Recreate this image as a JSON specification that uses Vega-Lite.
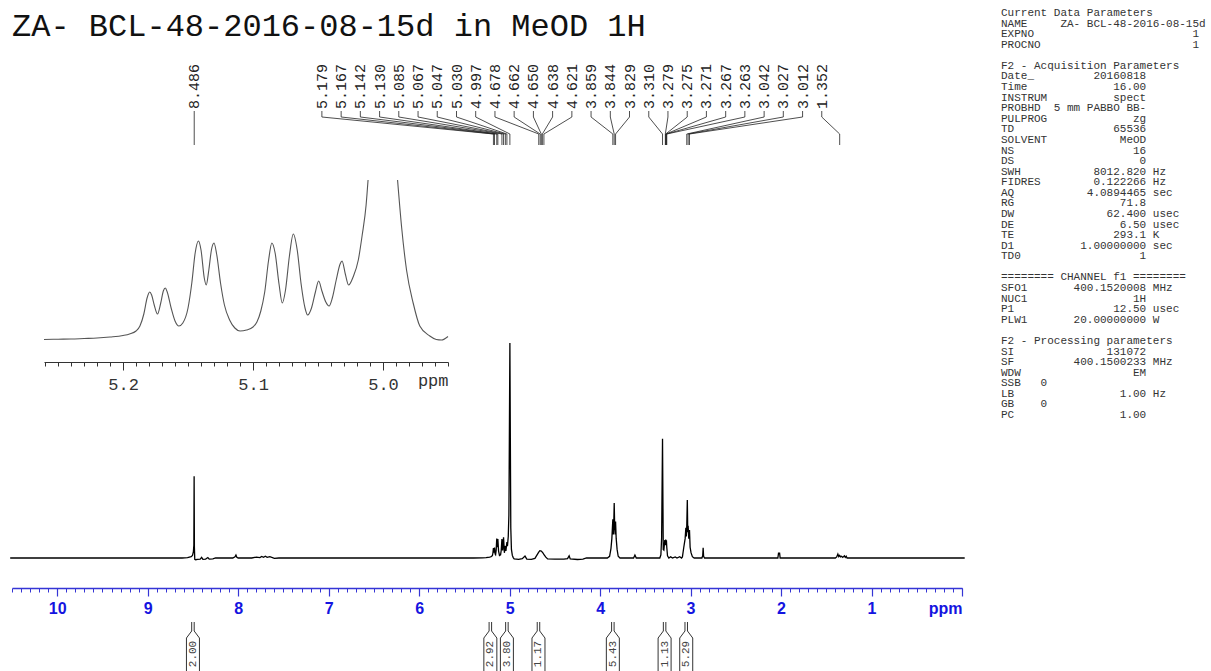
{
  "$schema": "https://vega.github.io/schema/vega-lite/v6.json",
  "width": 1211,
  "height": 671,
  "padding": 0,
  "autosize": {"type": "none"},
  "background": "white",
  "config": {"view": {"stroke": null}, "axis": {"grid": false}},
  "datasets": {
    "params": [
      {"line": 1, "text": "Current Data Parameters"},
      {"line": 2, "text": "NAME\u00a0\u00a0\u00a0\u00a0\u00a0ZA- BCL-48-2016-08-15d"},
      {"line": 3, "text": "EXPNO\u00a0\u00a0\u00a0\u00a0\u00a0\u00a0\u00a0\u00a0\u00a0\u00a0\u00a0\u00a0\u00a0\u00a0\u00a0\u00a0\u00a0\u00a0\u00a0\u00a0\u00a0\u00a0\u00a0\u00a01"},
      {"line": 4, "text": "PROCNO\u00a0\u00a0\u00a0\u00a0\u00a0\u00a0\u00a0\u00a0\u00a0\u00a0\u00a0\u00a0\u00a0\u00a0\u00a0\u00a0\u00a0\u00a0\u00a0\u00a0\u00a0\u00a0\u00a01"},
      {"line": 6, "text": "F2 - Acquisition Parameters"},
      {"line": 7, "text": "Date_\u00a0\u00a0\u00a0\u00a0\u00a0\u00a0\u00a0\u00a0\u00a020160818"},
      {"line": 8, "text": "Time\u00a0\u00a0\u00a0\u00a0\u00a0\u00a0\u00a0\u00a0\u00a0\u00a0\u00a0\u00a0\u00a016.00"},
      {"line": 9, "text": "INSTRUM\u00a0\u00a0\u00a0\u00a0\u00a0\u00a0\u00a0\u00a0\u00a0\u00a0spect"},
      {"line": 10, "text": "PROBHD\u00a0\u00a05 mm PABBO BB-"},
      {"line": 11, "text": "PULPROG\u00a0\u00a0\u00a0\u00a0\u00a0\u00a0\u00a0\u00a0\u00a0\u00a0\u00a0\u00a0\u00a0zg"},
      {"line": 12, "text": "TD\u00a0\u00a0\u00a0\u00a0\u00a0\u00a0\u00a0\u00a0\u00a0\u00a0\u00a0\u00a0\u00a0\u00a0\u00a065536"},
      {"line": 13, "text": "SOLVENT\u00a0\u00a0\u00a0\u00a0\u00a0\u00a0\u00a0\u00a0\u00a0\u00a0\u00a0MeOD"},
      {"line": 14, "text": "NS\u00a0\u00a0\u00a0\u00a0\u00a0\u00a0\u00a0\u00a0\u00a0\u00a0\u00a0\u00a0\u00a0\u00a0\u00a0\u00a0\u00a0\u00a016"},
      {"line": 15, "text": "DS\u00a0\u00a0\u00a0\u00a0\u00a0\u00a0\u00a0\u00a0\u00a0\u00a0\u00a0\u00a0\u00a0\u00a0\u00a0\u00a0\u00a0\u00a0\u00a00"},
      {"line": 16, "text": "SWH\u00a0\u00a0\u00a0\u00a0\u00a0\u00a0\u00a0\u00a0\u00a0\u00a0\u00a08012.820 Hz"},
      {"line": 17, "text": "FIDRES\u00a0\u00a0\u00a0\u00a0\u00a0\u00a0\u00a0\u00a00.122266 Hz"},
      {"line": 18, "text": "AQ\u00a0\u00a0\u00a0\u00a0\u00a0\u00a0\u00a0\u00a0\u00a0\u00a0\u00a04.0894465 sec"},
      {"line": 19, "text": "RG\u00a0\u00a0\u00a0\u00a0\u00a0\u00a0\u00a0\u00a0\u00a0\u00a0\u00a0\u00a0\u00a0\u00a0\u00a0\u00a071.8"},
      {"line": 20, "text": "DW\u00a0\u00a0\u00a0\u00a0\u00a0\u00a0\u00a0\u00a0\u00a0\u00a0\u00a0\u00a0\u00a0\u00a062.400 usec"},
      {"line": 21, "text": "DE\u00a0\u00a0\u00a0\u00a0\u00a0\u00a0\u00a0\u00a0\u00a0\u00a0\u00a0\u00a0\u00a0\u00a0\u00a0\u00a06.50 usec"},
      {"line": 22, "text": "TE\u00a0\u00a0\u00a0\u00a0\u00a0\u00a0\u00a0\u00a0\u00a0\u00a0\u00a0\u00a0\u00a0\u00a0\u00a0293.1 K"},
      {"line": 23, "text": "D1\u00a0\u00a0\u00a0\u00a0\u00a0\u00a0\u00a0\u00a0\u00a0\u00a01.00000000 sec"},
      {"line": 24, "text": "TD0\u00a0\u00a0\u00a0\u00a0\u00a0\u00a0\u00a0\u00a0\u00a0\u00a0\u00a0\u00a0\u00a0\u00a0\u00a0\u00a0\u00a0\u00a01"},
      {"line": 26, "text": "======== CHANNEL f1 ========"},
      {"line": 27, "text": "SFO1\u00a0\u00a0\u00a0\u00a0\u00a0\u00a0\u00a0400.1520008 MHz"},
      {"line": 28, "text": "NUC1\u00a0\u00a0\u00a0\u00a0\u00a0\u00a0\u00a0\u00a0\u00a0\u00a0\u00a0\u00a0\u00a0\u00a0\u00a0\u00a01H"},
      {"line": 29, "text": "P1\u00a0\u00a0\u00a0\u00a0\u00a0\u00a0\u00a0\u00a0\u00a0\u00a0\u00a0\u00a0\u00a0\u00a0\u00a012.50 usec"},
      {"line": 30, "text": "PLW1\u00a0\u00a0\u00a0\u00a0\u00a0\u00a0\u00a020.00000000 W"},
      {"line": 32, "text": "F2 - Processing parameters"},
      {"line": 33, "text": "SI\u00a0\u00a0\u00a0\u00a0\u00a0\u00a0\u00a0\u00a0\u00a0\u00a0\u00a0\u00a0\u00a0\u00a0131072"},
      {"line": 34, "text": "SF\u00a0\u00a0\u00a0\u00a0\u00a0\u00a0\u00a0\u00a0\u00a0400.1500233 MHz"},
      {"line": 35, "text": "WDW\u00a0\u00a0\u00a0\u00a0\u00a0\u00a0\u00a0\u00a0\u00a0\u00a0\u00a0\u00a0\u00a0\u00a0\u00a0\u00a0\u00a0EM"},
      {"line": 36, "text": "SSB\u00a0\u00a0\u00a00"},
      {"line": 37, "text": "LB\u00a0\u00a0\u00a0\u00a0\u00a0\u00a0\u00a0\u00a0\u00a0\u00a0\u00a0\u00a0\u00a0\u00a0\u00a0\u00a01.00 Hz"},
      {"line": 38, "text": "GB\u00a0\u00a0\u00a0\u00a00"},
      {"line": 39, "text": "PC\u00a0\u00a0\u00a0\u00a0\u00a0\u00a0\u00a0\u00a0\u00a0\u00a0\u00a0\u00a0\u00a0\u00a0\u00a0\u00a01.00"}
    ],
    "peaks": [
      {"ppm": 8.486, "at": 8.486},
      {"ppm": 5.179, "at": 7.075},
      {"ppm": 5.167, "at": 6.862},
      {"ppm": 5.142, "at": 6.650},
      {"ppm": 5.130, "at": 6.437},
      {"ppm": 5.085, "at": 6.225},
      {"ppm": 5.067, "at": 6.012},
      {"ppm": 5.047, "at": 5.800},
      {"ppm": 5.030, "at": 5.587},
      {"ppm": 4.997, "at": 5.375},
      {"ppm": 4.678, "at": 5.162},
      {"ppm": 4.662, "at": 4.950},
      {"ppm": 4.650, "at": 4.737},
      {"ppm": 4.638, "at": 4.525},
      {"ppm": 4.621, "at": 4.312},
      {"ppm": 3.859, "at": 4.100},
      {"ppm": 3.844, "at": 3.887},
      {"ppm": 3.829, "at": 3.675},
      {"ppm": 3.310, "at": 3.462},
      {"ppm": 3.279, "at": 3.250},
      {"ppm": 3.275, "at": 3.037},
      {"ppm": 3.271, "at": 2.825},
      {"ppm": 3.267, "at": 2.612},
      {"ppm": 3.263, "at": 2.400},
      {"ppm": 3.042, "at": 2.187},
      {"ppm": 3.027, "at": 1.975},
      {"ppm": 3.012, "at": 1.762},
      {"ppm": 1.352, "at": 1.550}
    ],
    "integrals": [
      {"area": 2.00, "ppm": 8.50},
      {"area": 2.92, "ppm": 5.213},
      {"area": 3.80, "ppm": 5.030},
      {"area": 1.17, "ppm": 4.681},
      {"area": 5.43, "ppm": 3.859},
      {"area": 1.13, "ppm": 3.287},
      {"area": 5.29, "ppm": 3.048}
    ],
    "spectrum": [
      {"ppm": 10.52, "i": 0}, {"ppm": 8.62, "i": 0}, {"ppm": 8.56, "i": 0.2}, {"ppm": 8.52, "i": 0.6},
      {"ppm": 8.505, "i": 1.2}, {"ppm": 8.495, "i": 3}, {"ppm": 8.49, "i": 6}, {"ppm": 8.487, "i": 38},
      {"ppm": 8.484, "i": 5}, {"ppm": 8.48, "i": -0.6}, {"ppm": 8.47, "i": -0.8}, {"ppm": 8.45, "i": -0.6},
      {"ppm": 8.42, "i": -0.5}, {"ppm": 8.404, "i": 0.3}, {"ppm": 8.39, "i": -0.6}, {"ppm": 8.36, "i": -0.5},
      {"ppm": 8.335, "i": 0.2}, {"ppm": 8.32, "i": -0.5}, {"ppm": 8.28, "i": -0.4}, {"ppm": 8.25, "i": 0},
      {"ppm": 8.06, "i": 0}, {"ppm": 8.035, "i": 0.6}, {"ppm": 8.025, "i": 1.4}, {"ppm": 8.015, "i": 0.3},
      {"ppm": 8.0, "i": 0}, {"ppm": 7.85, "i": 0}, {"ppm": 7.8, "i": 0.4}, {"ppm": 7.76, "i": 0.2},
      {"ppm": 7.74, "i": 0.7}, {"ppm": 7.72, "i": 0.3}, {"ppm": 7.7, "i": 0.8}, {"ppm": 7.68, "i": 0.3},
      {"ppm": 7.65, "i": 0.6}, {"ppm": 7.6, "i": -0.2}, {"ppm": 7.55, "i": 0}, {"ppm": 5.4, "i": 0},
      {"ppm": 5.3, "i": 0.1}, {"ppm": 5.26, "i": 0.2}, {"ppm": 5.22, "i": 0.4}, {"ppm": 5.2, "i": 0.7},
      {"ppm": 5.19, "i": 1.2}, {"ppm": 5.185, "i": 2.2}, {"ppm": 5.179, "i": 4.6}, {"ppm": 5.173, "i": 2.5},
      {"ppm": 5.167, "i": 4.8}, {"ppm": 5.16, "i": 1.8}, {"ppm": 5.155, "i": 1.5}, {"ppm": 5.149, "i": 3.5},
      {"ppm": 5.142, "i": 9}, {"ppm": 5.136, "i": 5}, {"ppm": 5.13, "i": 8.8}, {"ppm": 5.122, "i": 3.2},
      {"ppm": 5.112, "i": 1.2}, {"ppm": 5.1, "i": 1.5}, {"ppm": 5.093, "i": 3.5}, {"ppm": 5.085, "i": 8.8},
      {"ppm": 5.077, "i": 3.5}, {"ppm": 5.067, "i": 9.6}, {"ppm": 5.058, "i": 2.4}, {"ppm": 5.047, "i": 5.6},
      {"ppm": 5.041, "i": 3.3}, {"ppm": 5.03, "i": 7.4}, {"ppm": 5.024, "i": 5.5}, {"ppm": 5.015, "i": 10},
      {"ppm": 5.008, "i": 20}, {"ppm": 5.003, "i": 55}, {"ppm": 4.997, "i": 100}, {"ppm": 4.992, "i": 55},
      {"ppm": 4.987, "i": 14}, {"ppm": 4.98, "i": 4}, {"ppm": 4.97, "i": 1.2}, {"ppm": 4.96, "i": 0.2},
      {"ppm": 4.95, "i": -0.4}, {"ppm": 4.9, "i": -0.6}, {"ppm": 4.86, "i": -0.3}, {"ppm": 4.83, "i": 0.9},
      {"ppm": 4.81, "i": -0.5}, {"ppm": 4.76, "i": -0.6}, {"ppm": 4.72, "i": -0.2}, {"ppm": 4.7, "i": 1.2},
      {"ppm": 4.68, "i": 2.6}, {"ppm": 4.666, "i": 3.4}, {"ppm": 4.65, "i": 3.2}, {"ppm": 4.632, "i": 2.4},
      {"ppm": 4.618, "i": 1.4}, {"ppm": 4.6, "i": 0.4}, {"ppm": 4.58, "i": -0.4}, {"ppm": 4.5, "i": -0.5},
      {"ppm": 4.4, "i": -0.5}, {"ppm": 4.36, "i": -0.3}, {"ppm": 4.342, "i": 1.0}, {"ppm": 4.33, "i": -0.4},
      {"ppm": 4.25, "i": -0.7}, {"ppm": 4.19, "i": -0.5}, {"ppm": 4.15, "i": 0}, {"ppm": 3.92, "i": 0},
      {"ppm": 3.895, "i": 0.8}, {"ppm": 3.88, "i": 4.4}, {"ppm": 3.87, "i": 9}, {"ppm": 3.864, "i": 14},
      {"ppm": 3.859, "i": 18}, {"ppm": 3.854, "i": 11}, {"ppm": 3.849, "i": 16}, {"ppm": 3.844, "i": 25.6},
      {"ppm": 3.839, "i": 15}, {"ppm": 3.834, "i": 11}, {"ppm": 3.829, "i": 17}, {"ppm": 3.822, "i": 9},
      {"ppm": 3.812, "i": 4}, {"ppm": 3.8, "i": 0.8}, {"ppm": 3.78, "i": 0}, {"ppm": 3.63, "i": 0},
      {"ppm": 3.615, "i": 1.4}, {"ppm": 3.6, "i": 0}, {"ppm": 3.34, "i": 0}, {"ppm": 3.328, "i": 1.5},
      {"ppm": 3.32, "i": 9.3}, {"ppm": 3.31, "i": 55.5}, {"ppm": 3.302, "i": 4}, {"ppm": 3.295, "i": 3.7},
      {"ppm": 3.285, "i": 8.4}, {"ppm": 3.279, "i": 6}, {"ppm": 3.275, "i": 8.6}, {"ppm": 3.271, "i": 6.5},
      {"ppm": 3.267, "i": 8.2}, {"ppm": 3.263, "i": 5}, {"ppm": 3.255, "i": 1}, {"ppm": 3.24, "i": 0},
      {"ppm": 3.22, "i": 0.6}, {"ppm": 3.2, "i": 0}, {"ppm": 3.17, "i": 0.5}, {"ppm": 3.15, "i": 0},
      {"ppm": 3.12, "i": 0.6}, {"ppm": 3.1, "i": 0}, {"ppm": 3.09, "i": 0.5}, {"ppm": 3.075, "i": 5},
      {"ppm": 3.06, "i": 9}, {"ppm": 3.052, "i": 14}, {"ppm": 3.047, "i": 10}, {"ppm": 3.042, "i": 15},
      {"ppm": 3.036, "i": 27}, {"ppm": 3.031, "i": 12}, {"ppm": 3.027, "i": 15}, {"ppm": 3.02, "i": 9},
      {"ppm": 3.012, "i": 13}, {"ppm": 3.005, "i": 5}, {"ppm": 2.995, "i": 2.5}, {"ppm": 2.98, "i": 0.6},
      {"ppm": 2.96, "i": 0}, {"ppm": 2.875, "i": 0}, {"ppm": 2.866, "i": 1}, {"ppm": 2.861, "i": 4.8},
      {"ppm": 2.856, "i": 0.8}, {"ppm": 2.845, "i": 0}, {"ppm": 2.035, "i": 0}, {"ppm": 2.028, "i": 2.3},
      {"ppm": 2.016, "i": 2.3}, {"ppm": 2.01, "i": 0}, {"ppm": 1.4, "i": 0}, {"ppm": 1.385, "i": 0.5},
      {"ppm": 1.372, "i": 1.8}, {"ppm": 1.362, "i": 0.6}, {"ppm": 1.352, "i": 1.2}, {"ppm": 1.342, "i": 0.5},
      {"ppm": 1.33, "i": 0.8}, {"ppm": 1.318, "i": 0.3}, {"ppm": 1.3, "i": 1.0}, {"ppm": 1.29, "i": 0.3},
      {"ppm": 1.28, "i": 0.8}, {"ppm": 1.27, "i": 0}, {"ppm": -0.03, "i": 0}
    ],
    "inset": [
      {"seg": "a", "ppm": 5.2608, "v": 0.5}, {"seg": "a", "ppm": 5.25, "v": 0.8}, {"seg": "a", "ppm": 5.24, "v": 1},
      {"seg": "a", "ppm": 5.23, "v": 1.5}, {"seg": "a", "ppm": 5.22, "v": 2}, {"seg": "a", "ppm": 5.21, "v": 3},
      {"seg": "a", "ppm": 5.2, "v": 4.5}, {"seg": "a", "ppm": 5.195, "v": 6}, {"seg": "a", "ppm": 5.19, "v": 9},
      {"seg": "a", "ppm": 5.187, "v": 14}, {"seg": "a", "ppm": 5.184, "v": 26}, {"seg": "a", "ppm": 5.1815, "v": 42},
      {"seg": "a", "ppm": 5.1795, "v": 48}, {"seg": "a", "ppm": 5.178, "v": 45}, {"seg": "a", "ppm": 5.176, "v": 35},
      {"seg": "a", "ppm": 5.1735, "v": 26}, {"seg": "a", "ppm": 5.171, "v": 37}, {"seg": "a", "ppm": 5.169, "v": 49},
      {"seg": "a", "ppm": 5.1675, "v": 52}, {"seg": "a", "ppm": 5.166, "v": 48}, {"seg": "a", "ppm": 5.163, "v": 32},
      {"seg": "a", "ppm": 5.16, "v": 19}, {"seg": "a", "ppm": 5.157, "v": 14}, {"seg": "a", "ppm": 5.154, "v": 17},
      {"seg": "a", "ppm": 5.15, "v": 32}, {"seg": "a", "ppm": 5.147, "v": 58}, {"seg": "a", "ppm": 5.1445, "v": 87},
      {"seg": "a", "ppm": 5.142, "v": 99}, {"seg": "a", "ppm": 5.14, "v": 90}, {"seg": "a", "ppm": 5.1375, "v": 62},
      {"seg": "a", "ppm": 5.136, "v": 55}, {"seg": "a", "ppm": 5.134, "v": 70}, {"seg": "a", "ppm": 5.132, "v": 90},
      {"seg": "a", "ppm": 5.13, "v": 97}, {"seg": "a", "ppm": 5.128, "v": 86}, {"seg": "a", "ppm": 5.125, "v": 57},
      {"seg": "a", "ppm": 5.122, "v": 35}, {"seg": "a", "ppm": 5.118, "v": 20}, {"seg": "a", "ppm": 5.114, "v": 12},
      {"seg": "a", "ppm": 5.11, "v": 9}, {"seg": "a", "ppm": 5.105, "v": 10}, {"seg": "a", "ppm": 5.1, "v": 13},
      {"seg": "a", "ppm": 5.097, "v": 18}, {"seg": "a", "ppm": 5.094, "v": 29}, {"seg": "a", "ppm": 5.091, "v": 48},
      {"seg": "a", "ppm": 5.088, "v": 80}, {"seg": "a", "ppm": 5.0855, "v": 97}, {"seg": "a", "ppm": 5.083, "v": 87},
      {"seg": "a", "ppm": 5.08, "v": 56}, {"seg": "a", "ppm": 5.0775, "v": 37}, {"seg": "a", "ppm": 5.075, "v": 50},
      {"seg": "a", "ppm": 5.072, "v": 84}, {"seg": "a", "ppm": 5.069, "v": 106}, {"seg": "a", "ppm": 5.066, "v": 90},
      {"seg": "a", "ppm": 5.063, "v": 56}, {"seg": "a", "ppm": 5.06, "v": 32}, {"seg": "a", "ppm": 5.058, "v": 25},
      {"seg": "a", "ppm": 5.055, "v": 32}, {"seg": "a", "ppm": 5.052, "v": 48}, {"seg": "a", "ppm": 5.0495, "v": 59},
      {"seg": "a", "ppm": 5.047, "v": 49}, {"seg": "a", "ppm": 5.044, "v": 38}, {"seg": "a", "ppm": 5.0415, "v": 34},
      {"seg": "a", "ppm": 5.039, "v": 42}, {"seg": "a", "ppm": 5.036, "v": 60}, {"seg": "a", "ppm": 5.033, "v": 76},
      {"seg": "a", "ppm": 5.0315, "v": 79}, {"seg": "a", "ppm": 5.029, "v": 66}, {"seg": "a", "ppm": 5.0265, "v": 55},
      {"seg": "a", "ppm": 5.023, "v": 63}, {"seg": "a", "ppm": 5.019, "v": 80}, {"seg": "a", "ppm": 5.016, "v": 105},
      {"seg": "a", "ppm": 5.013, "v": 135}, {"seg": "a", "ppm": 5.0115, "v": 165},
      {"seg": "b", "ppm": 4.9888, "v": 165}, {"seg": "b", "ppm": 4.9857, "v": 113}, {"seg": "b", "ppm": 4.9819, "v": 70},
      {"seg": "b", "ppm": 4.9768, "v": 37}, {"seg": "b", "ppm": 4.9717, "v": 14}, {"seg": "b", "ppm": 4.964, "v": 4},
      {"seg": "b", "ppm": 4.959, "v": 0.5}, {"seg": "b", "ppm": 4.955, "v": -0.5}, {"seg": "b", "ppm": 4.95, "v": 3.5}
    ]
  },
  "layer": [
    {
      "data": {"values": [{"title": "ZA- BCL-48-2016-08-15d in MeOD 1H"}]},
      "mark": {"type": "text", "font": "Liberation Mono", "fontSize": 32, "align": "left", "baseline": "middle", "color": "#111111"},
      "encoding": {
        "text": {"field": "title"},
        "x": {"datum": 12, "type": "quantitative", "scale": {"domain": [0, 1211], "range": [0, 1211], "nice": false, "zero": false}, "axis": null},
        "y": {"datum": 26, "type": "quantitative", "scale": {"domain": [0, 671], "range": [0, 671], "nice": false, "zero": false}, "axis": null}
      }
    },
    {
      "data": {"name": "params"},
      "mark": {"type": "text", "font": "Liberation Mono", "fontSize": 11, "align": "left", "baseline": "middle", "color": "#333333"},
      "encoding": {
        "text": {"field": "text"},
        "x": {"datum": 1001, "type": "quantitative", "scale": {"domain": [0, 1211], "range": [0, 1211], "nice": false, "zero": false}, "axis": null},
        "y": {"field": "line", "type": "quantitative", "scale": {"domain": [1, 39], "range": [13, 415], "nice": false, "zero": false}, "axis": null}
      }
    },
    {
      "data": {"name": "peaks"},
      "mark": {"type": "text", "font": "Liberation Mono", "fontSize": 15, "angle": 270, "align": "left", "baseline": "middle", "color": "#222222"},
      "encoding": {
        "text": {"field": "ppm", "type": "quantitative", "format": ".3f"},
        "x": {"field": "at", "type": "quantitative", "scale": {"domain": [10.5, 0], "range": [12, 962], "nice": false, "zero": false}, "axis": {"orient": "bottom", "offset": -83, "values": [10.5,10.4,10.3,10.2,10.1,10,9.9,9.8,9.7,9.6,9.5,9.4,9.3,9.2,9.1,9,8.9,8.8,8.7,8.6,8.5,8.4,8.3,8.2,8.1,8,7.9,7.8,7.7,7.6,7.5,7.4,7.3,7.2,7.1,7,6.9,6.8,6.7,6.6,6.5,6.4,6.3,6.2,6.1,6,5.9,5.8,5.7,5.6,5.5,5.4,5.3,5.2,5.1,5,4.9,4.8,4.7,4.6,4.5,4.4,4.3,4.2,4.1,4,3.9,3.8,3.7,3.6,3.5,3.4,3.3,3.2,3.1,3,2.9,2.8,2.7,2.6,2.5,2.4,2.3,2.2,2.1,2,1.9,1.8,1.7,1.6,1.5,1.4,1.3,1.2,1.1,1,0.9,0.8,0.7,0.6,0.5,0.4,0.3,0.2,0.1,0], "domain": false, "labels": false, "title": null, "tickColor": "#3535d5", "tickSize": 4, "grid": false}},
        "y": {"datum": 109, "type": "quantitative", "scale": {"domain": [0, 671], "range": [0, 671], "nice": false, "zero": false}, "axis": null}
      }
    },
    {
      "data": {"name": "peaks"},
      "mark": {"type": "rule", "color": "#222222", "strokeWidth": 0.8},
      "encoding": {
        "x": {"field": "at", "type": "quantitative", "scale": {"domain": [10.5, 0], "range": [12, 962], "nice": false, "zero": false}, "axis": null},
        "y": {"datum": 111, "type": "quantitative", "scale": {"domain": [0, 671], "range": [0, 671], "nice": false, "zero": false}, "axis": null},
        "y2": {"datum": 117}
      }
    },
    {
      "data": {"name": "peaks"},
      "mark": {"type": "rule", "color": "#222222", "strokeWidth": 0.8},
      "encoding": {
        "x": {"field": "at", "type": "quantitative", "scale": {"domain": [10.5, 0], "range": [12, 962], "nice": false, "zero": false}, "axis": null},
        "x2": {"field": "ppm"},
        "y": {"datum": 117, "type": "quantitative", "scale": {"domain": [0, 671], "range": [0, 671], "nice": false, "zero": false}, "axis": null},
        "y2": {"datum": 134}
      }
    },
    {
      "data": {"name": "peaks"},
      "mark": {"type": "rule", "color": "#222222", "strokeWidth": 0.8},
      "encoding": {
        "x": {"field": "ppm", "type": "quantitative", "scale": {"domain": [10.5, 0], "range": [12, 962], "nice": false, "zero": false}, "axis": null},
        "y": {"datum": 134, "type": "quantitative", "scale": {"domain": [0, 671], "range": [0, 671], "nice": false, "zero": false}, "axis": null},
        "y2": {"datum": 145}
      }
    },
    {
      "data": {"name": "spectrum"},
      "mark": {"type": "line", "color": "#000000", "strokeWidth": 1.3},
      "encoding": {
        "x": {"field": "ppm", "type": "quantitative", "scale": {"domain": [10.5, 0], "range": [12, 962], "nice": false, "zero": false},
          "axis": {"orient": "bottom", "offset": -83, "title": null, "grid": false,
            "values": [10.5,10.4,10.3,10.2,10.1,10,9.9,9.8,9.7,9.6,9.5,9.4,9.3,9.2,9.1,9,8.9,8.8,8.7,8.6,8.5,8.4,8.3,8.2,8.1,8,7.9,7.8,7.7,7.6,7.5,7.4,7.3,7.2,7.1,7,6.9,6.8,6.7,6.6,6.5,6.4,6.3,6.2,6.1,6,5.9,5.8,5.7,5.6,5.5,5.4,5.3,5.2,5.1,5,4.9,4.8,4.7,4.6,4.5,4.4,4.3,4.2,4.1,4,3.9,3.8,3.7,3.6,3.5,3.4,3.3,3.2,3.1,3,2.9,2.8,2.7,2.6,2.5,2.4,2.3,2.2,2.1,2,1.9,1.8,1.7,1.6,1.5,1.4,1.3,1.2,1.1,1,0.9,0.8,0.7,0.6,0.5,0.4,0.3,0.2,0.1,0],
            "domainColor": "#3535d5", "domainWidth": 1.3, "tickColor": "#3535d5", "tickWidth": 1.2,
            "tickSize": {"condition": {"test": "abs(datum.value - round(datum.value)) < 0.001", "value": 8}, "value": 0},
            "labelExpr": "datum.value < 0.05 ? 'ppm' : (abs(datum.value - round(datum.value)) < 0.001 ? format(datum.value, 'd') : '')",
            "labelFont": "Liberation Sans", "labelFontWeight": "bold", "labelFontSize": 16, "labelColor": "#1414e0",
            "labelOverlap": false, "labelFlush": true, "labelPadding": 4}},
        "y": {"field": "i", "type": "quantitative", "scale": {"domain": [0, 100], "range": [558, 343], "nice": false, "zero": false}, "axis": null}
      }
    },
    {
      "data": {"name": "inset"},
      "mark": {"type": "line", "color": "#555555", "strokeWidth": 1.1, "interpolate": "monotone"},
      "encoding": {
        "detail": {"field": "seg"},
        "x": {"field": "ppm", "type": "quantitative", "scale": {"domain": [5.2608, 4.95], "range": [44, 448], "nice": false, "zero": false},
          "axis": {"orient": "bottom", "offset": -309, "title": null, "grid": false,
            "values": [5.26,5.25,5.24,5.23,5.22,5.21,5.2,5.19,5.18,5.17,5.16,5.15,5.14,5.13,5.12,5.11,5.1,5.09,5.08,5.07,5.06,5.05,5.04,5.03,5.02,5.01,5,4.99,4.98,4.97,4.96,4.95],
            "domainColor": "#333333", "tickColor": "#333333",
            "tickSize": {"condition": {"test": "abs(datum.value*10 - round(datum.value*10)) < 0.001", "value": 8}, "value": 4},
            "labelExpr": "abs(datum.value*10 - round(datum.value*10)) < 0.001 ? format(datum.value, '.1f') : (datum.value < 4.955 ? 'ppm' : '')",
            "labelFont": "Liberation Mono", "labelFontSize": 17, "labelColor": "#333333",
            "labelOverlap": false, "labelFlush": true, "labelPadding": 6}},
        "y": {"field": "v", "type": "quantitative", "scale": {"domain": [0, 160], "range": [340, 180], "nice": false, "zero": false, "clamp": true}, "axis": null}
      }
    },
    {
      "data": {"name": "integrals"},
      "mark": {"type": "point", "shape": "M -0.05 -1 L -0.05 -0.64 L -0.26 -0.36 L -0.26 1 M 0.05 -1 L 0.05 -0.64 L 0.26 -0.36 L 0.26 1", "filled": false, "size": 2500, "stroke": "#333333", "strokeWidth": 1, "opacity": 1},
      "encoding": {
        "x": {"field": "ppm", "type": "quantitative", "scale": {"domain": [10.5, 0], "range": [12, 962], "nice": false, "zero": false}, "axis": null},
        "y": {"datum": 647, "type": "quantitative", "scale": {"domain": [0, 671], "range": [0, 671], "nice": false, "zero": false}, "axis": null}
      }
    },
    {
      "data": {"name": "integrals"},
      "mark": {"type": "text", "font": "Liberation Mono", "fontSize": 11, "angle": 270, "align": "center", "baseline": "middle", "color": "#444444"},
      "encoding": {
        "text": {"field": "area", "type": "quantitative", "format": ".2f"},
        "x": {"field": "ppm", "type": "quantitative", "scale": {"domain": [10.5, 0], "range": [12, 962], "nice": false, "zero": false}, "axis": null},
        "y": {"datum": 654, "type": "quantitative", "scale": {"domain": [0, 671], "range": [0, 671], "nice": false, "zero": false}, "axis": null}
      }
    }
  ],
  "resolve": {"scale": {"x": "independent", "y": "independent"}, "axis": {"x": "independent", "y": "independent"}}
}
